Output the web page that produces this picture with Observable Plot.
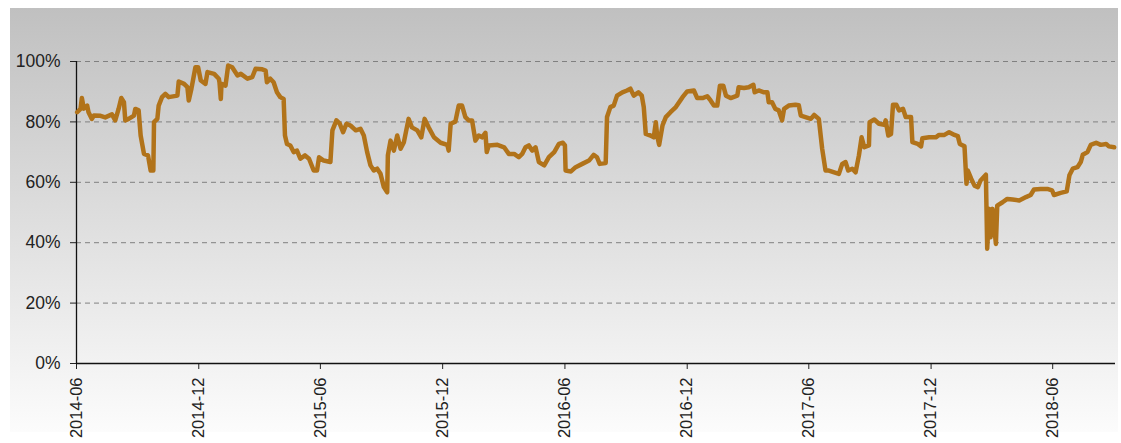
<!DOCTYPE html>
<html><head><meta charset="utf-8">
<script src="https://cdn.jsdelivr.net/npm/d3@7"></script>
<script src="https://cdn.jsdelivr.net/npm/@observablehq/plot@0.6"></script>
<style>body{margin:0;background:#fff;} #chart svg{display:block;}</style>
</head><body><div id="chart"></div>
<script>
const dates = [
"2014-06-02","2014-06-07","2014-06-09","2014-06-12","2014-06-17","2014-06-19","2014-06-24","2014-06-27","2014-07-07","2014-07-14",
"2014-07-24","2014-07-29","2014-08-03","2014-08-07","2014-08-11","2014-08-13","2014-08-18","2014-08-26","2014-08-28","2014-09-02",
"2014-09-05","2014-09-10","2014-09-16","2014-09-20","2014-09-24","2014-09-25","2014-09-30","2014-10-02","2014-10-07","2014-10-12",
"2014-10-17","2014-10-30","2014-11-01","2014-11-09","2014-11-14","2014-11-16","2014-11-20","2014-11-26","2014-11-30","2014-12-04",
"2014-12-11","2014-12-14","2014-12-24","2014-12-31","2015-01-01","2015-01-03","2015-01-04","2015-01-10","2015-01-14","2015-01-20",
"2015-01-28","2015-02-02","2015-02-12","2015-02-19","2015-02-24","2015-03-06","2015-03-11","2015-03-13","2015-03-18","2015-03-23",
"2015-03-28","2015-04-02","2015-04-07","2015-04-09","2015-04-12","2015-04-17","2015-04-22","2015-04-27","2015-05-02","2015-05-09",
"2015-05-15","2015-05-22","2015-05-27","2015-05-30","2015-06-06","2015-06-16","2015-06-19","2015-06-25","2015-06-30","2015-07-05",
"2015-07-10","2015-07-16","2015-07-24","2015-07-31","2015-08-05","2015-08-10","2015-08-15","2015-08-20","2015-08-25","2015-08-30",
"2015-09-04","2015-09-09","2015-09-10","2015-09-14","2015-09-19","2015-09-24","2015-09-29","2015-10-04","2015-10-11","2015-10-16",
"2015-10-24","2015-10-30","2015-11-04","2015-11-10","2015-11-18","2015-11-28","2015-12-08","2015-12-10","2015-12-13","2015-12-20",
"2015-12-25","2015-12-30","2016-01-04","2016-01-09","2016-01-14","2016-01-19","2016-01-24","2016-01-29","2016-02-03","2016-02-05",
"2016-02-08","2016-02-21","2016-03-02","2016-03-09","2016-03-17","2016-03-24","2016-03-29","2016-04-03","2016-04-08","2016-04-13",
"2016-04-18","2016-04-23","2016-05-01","2016-05-08","2016-05-16","2016-05-23","2016-05-29","2016-06-01","2016-06-02","2016-06-10",
"2016-06-17","2016-06-27","2016-07-07","2016-07-14","2016-07-19","2016-07-23","2016-08-01","2016-08-03","2016-08-08","2016-08-13",
"2016-08-18","2016-08-26","2016-09-02","2016-09-07","2016-09-12","2016-09-19","2016-09-24","2016-09-27","2016-09-30","2016-10-07",
"2016-10-12","2016-10-15","2016-10-17","2016-10-20","2016-10-25","2016-10-30","2016-11-06","2016-11-14","2016-11-24","2016-12-01",
"2016-12-11","2016-12-16","2016-12-24","2016-12-31","2017-01-05","2017-01-10","2017-01-15","2017-01-19","2017-01-24","2017-01-28",
"2017-02-04","2017-02-14","2017-02-16","2017-02-24","2017-03-03","2017-03-10","2017-03-12","2017-03-18","2017-03-26","2017-03-31",
"2017-04-02","2017-04-07","2017-04-12","2017-04-17","2017-04-22","2017-04-25","2017-05-02","2017-05-12","2017-05-17","2017-05-20",
"2017-05-27","2017-06-04","2017-06-09","2017-06-16","2017-06-21","2017-06-26","2017-07-01","2017-07-09","2017-07-16","2017-07-21",
"2017-07-26","2017-07-30","2017-08-05","2017-08-10","2017-08-15","2017-08-19","2017-08-23","2017-08-30","2017-08-31","2017-09-07",
"2017-09-14","2017-09-22","2017-09-24","2017-09-28","2017-10-02","2017-10-05","2017-10-10","2017-10-14","2017-10-20","2017-10-24",
"2017-11-01","2017-11-03","2017-11-11","2017-11-16","2017-11-18","2017-11-28","2017-12-08","2017-12-13","2017-12-21","2017-12-28",
"2018-01-05","2018-01-10","2018-01-13","2018-01-20","2018-01-23","2018-01-25","2018-01-30","2018-02-04","2018-02-09","2018-02-13",
"2018-02-21","2018-02-23","2018-02-26","2018-02-28","2018-03-03","2018-03-08","2018-03-10","2018-03-18","2018-03-25","2018-04-02",
"2018-04-12","2018-04-22","2018-04-29","2018-05-04","2018-05-14","2018-05-24","2018-05-31","2018-06-03","2018-06-13","2018-06-22",
"2018-06-26","2018-07-01","2018-07-08","2018-07-13","2018-07-16","2018-07-23","2018-07-28","2018-08-05","2018-08-12","2018-08-20",
"2018-08-24","2018-09-01"
];
const values = [
83.2,84.3,87.9,84.4,85.4,83.2,81.0,82.1,82.0,81.5,
82.5,80.5,84.3,87.9,86.5,80.5,81.0,82.1,84.3,83.8,
75.5,69.4,68.9,63.9,63.9,79.9,81.0,85.4,88.2,89.3,
88.2,88.7,93.4,92.6,91.5,87.1,91.0,98.1,98.1,93.7,
92.6,96.5,95.9,94.3,93.1,87.6,92.6,92.0,98.7,98.1,
95.4,95.9,94.3,94.8,97.6,97.4,97.0,93.1,94.3,93.1,
89.8,88.2,87.6,75.5,72.7,72.2,70.0,70.5,67.8,68.9,
67.8,63.9,63.9,68.3,67.2,66.7,77.2,80.5,79.4,76.6,
79.4,78.8,77.2,77.7,75.5,70.0,65.6,63.9,64.5,62.8,
58.4,56.7,68.9,73.8,70.5,75.5,71.1,73.3,81.0,78.2,
77.2,74.9,81.0,78.2,74.9,73.1,72.4,70.5,79.4,80.1,
85.4,85.4,81.6,80.5,80.5,73.8,75.5,74.9,76.4,70.0,
72.2,72.4,71.6,69.4,69.4,68.3,69.4,71.6,72.2,70.5,
71.6,66.7,65.6,68.3,70.0,72.7,73.1,72.2,63.9,63.6,
65.0,66.1,67.2,69.1,68.3,66.1,66.4,81.6,84.9,85.4,
88.7,89.8,90.4,91.0,88.7,89.8,88.7,84.9,76.0,75.5,
74.9,79.9,75.5,72.4,78.8,81.6,83.2,84.9,88.2,90.1,
90.4,87.9,87.9,88.5,87.1,85.4,85.4,92.0,92.0,88.7,
87.9,88.7,91.5,91.2,91.5,92.3,89.8,90.4,89.8,89.8,
86.5,86.5,84.3,83.8,80.5,84.3,85.4,85.7,85.5,82.1,
81.6,81.0,82.3,81.0,71.1,63.9,63.9,63.3,62.8,66.1,
66.7,63.9,64.5,63.3,68.9,74.9,71.6,72.2,79.9,80.8,
79.4,79.0,80.5,75.5,76.0,85.7,85.7,83.8,84.3,81.6,
81.6,73.3,72.7,71.9,74.6,74.9,74.9,75.7,75.7,76.6,
75.7,75.3,72.7,71.9,59.5,63.9,61.2,58.9,58.4,60.6,
62.5,38.0,51.2,41.8,51.2,39.6,52.3,53.4,54.5,54.3,
54.0,55.1,55.8,57.6,57.8,57.8,57.3,55.8,56.5,57.0,
62.3,64.5,65.0,66.7,69.1,70.0,72.4,73.1,72.4,72.7,
71.9,71.6
];
const yTicks = [0, 20, 40, 60, 80, 100];
const xTicks = ["2014-06","2014-12","2015-06","2015-12","2016-06","2016-12","2017-06","2017-12","2018-06"];
const xDomain = ["2014-06-01", "2018-09-03"];

const parse = d3.utcParse("%Y-%m-%d");
const data = dates.map((d, i) => ({date: parse(d), value: values[i]}));
const xTickDates = xTicks.map(s => parse(s + "-01"));
const domain = xDomain.map(parse);

const chart = Plot.plot({
  width: 1121,
  height: 443,
  marginLeft: 76,
  marginRight: 6,
  marginTop: 61,
  marginBottom: 80,
  style: {fontFamily: "'Liberation Sans', Arial, sans-serif", fontSize: "16px", background: "transparent", color: "#222"},
  x: {type: "utc", domain: domain},
  y: {domain: [0, 100]},
  marks: [
    Plot.gridY(yTicks.filter(d => d > 0), {stroke: "#808080", strokeOpacity: 1, strokeDasharray: "5,4"}),
    Plot.axisY(yTicks, {tickFormat: d => d + "%", tickSize: 6, tickPadding: 10, label: null, stroke: "#222", fontSize: 17.5}),
    Plot.axisX(xTickDates, {tickFormat: d3.utcFormat("%Y-%m"), tickRotate: -90, tickSize: 6, tickPadding: 8, label: null, stroke: "#222", fontSize: 16.5}),
    Plot.ruleX([domain[0]], {stroke: "#111", strokeWidth: 1.3}),
    Plot.ruleY([0], {stroke: "#111", strokeWidth: 1.3}),
    Plot.line(data, {x: "date", y: "value", stroke: "#b1731a", strokeWidth: 4.5, strokeLinejoin: "round", curve: "linear"})
  ]
});

const svg = d3.select(chart);
const defs = svg.insert("defs", ":first-child");
const grad = defs.append("linearGradient").attr("id", "bggrad").attr("x1", 0).attr("y1", 0).attr("x2", 0).attr("y2", 1);
grad.append("stop").attr("offset", "0%").attr("stop-color", "#c0c0c0");
grad.append("stop").attr("offset", "100%").attr("stop-color", "#fcfcfc");
svg.insert("rect", "g").attr("x", 10).attr("y", 8).attr("width", 1108).attr("height", 424).attr("fill", "url(#bggrad)");

document.getElementById("chart").appendChild(chart);
</script>
</body></html>
